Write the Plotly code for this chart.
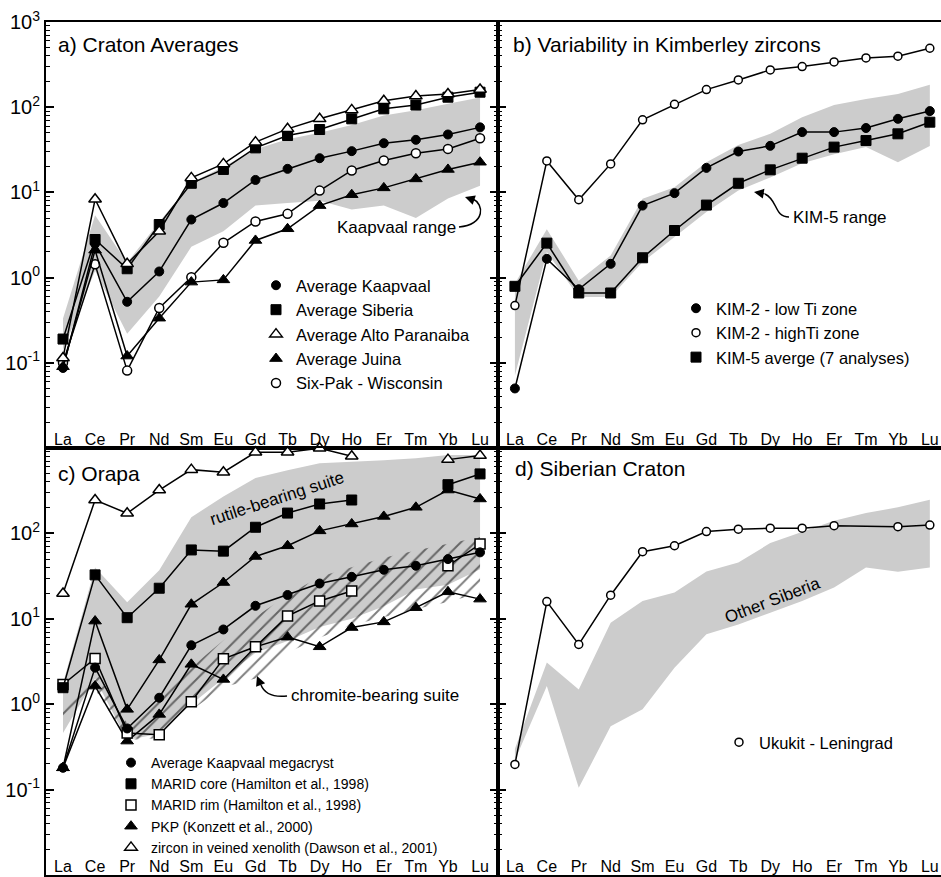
import plotly.graph_objects as go

W, H = 941, 877
elements = ["La", "Ce", "Pr", "Nd", "Sm", "Eu", "Gd", "Tb", "Dy", "Ho", "Er", "Tm", "Yb", "Lu"]
idx = list(range(len(elements)))

# ---------------- Panel a: Craton averages ----------------
kaap_avg = [0.087, 2.5, 0.52, 1.18, 4.8, 7.5, 14.0, 18.9, 25.2, 30.5, 37.8, 41.4, 47.8, 58.0]
siberia_avg = [0.19, 2.8, 1.27, 4.2, 12.8, 18.6, 33.3, 46.5, 54.7, 73.0, 95.6, 106.0, 131.0, 150.0]
alto_avg = [0.114, 8.3, 1.45, 3.5, 14.8, 21.6, 38.9, 55.7, 73.0, 93.0, 119.0, 135.0, 143.0, 161.0]
juina_avg = [0.09, 2.1, 0.12, 0.334, 0.885, 0.94, 2.73, 3.74, 7.0, 9.4, 11.3, 14.4, 18.6, 22.6]
sixpak = [0.1, 1.43, 0.081, 0.44, 1.01, 2.56, 4.56, 5.6, 10.5, 18.1, 23.7, 28.8, 32.4, 43.3]
kaap_range_hi = [0.33, 5.4, 1.5, 4.5, 13.0, 20.0, 32.0, 42.0, 50.0, 62.0, 80.0, 92.0, 110.0, 130.0]
kaap_range_lo = [0.14, 1.2, 0.22, 0.6, 2.3, 3.5, 7.0, 7.5, 8.0, 6.3, 7.0, 5.0, 8.5, 12.0]

# ---------------- Panel b: Kimberley zircons ----------------
kim2_low = [0.05, 1.66, 0.73, 1.45, 7.0, 9.8, 19.4, 30.2, 35.2, 51.0, 51.0, 57.0, 73.0, 90.0]
kim2_high = [0.47, 23.4, 8.2, 21.6, 71.0, 108.0, 161.0, 209.0, 274.0, 300.0, 340.0, 379.0, 397.0, 492.0]
kim5_avg = [0.79, 2.54, 0.66, 0.66, 1.71, 3.57, 7.1, 12.8, 18.4, 25.2, 34.0, 40.6, 48.7, 66.7]
kim5_hi = [0.85, 3.7, 0.92, 1.82, 8.4, 11.5, 22.6, 36.0, 48.7, 76.0, 106.0, 125.0, 143.0, 183.0]
kim5_lo = [0.071, 2.0, 0.59, 0.59, 1.52, 3.0, 5.9, 10.5, 15.0, 22.0, 28.0, 34.0, 22.6, 35.0]

# ---------------- Panel c: Orapa ----------------
kaap_mega = [0.18, 2.68, 0.52, 1.19, 4.9, 7.5, 14.2, 19.0, 25.9, 31.0, 37.5, 41.8, 50.0, 60.0]
marid_core = [1.56, 32.7, 10.3, 22.8, 64.0, 62.0, 118.0, 173.0, 221.0, 246.0, None, None, 372.0, 497.0]
marid_rim = [1.7, 3.44, 0.46, 0.44, 1.07, 3.4, 4.7, 10.8, 16.2, 21.2, None, None, 41.8, 75.0]
pkp_hi = [0.18, 9.4, 0.87, 3.3, 14.8, 26.6, 53.7, 71.6, 107.0, 129.0, 158.0, 202.0, 322.0, 253.0]
pkp_lo = [0.18, 1.63, 0.37, 0.76, 2.93, 1.95, 4.7, 6.1, 4.7, 7.9, 9.2, 13.5, 20.7, 17.0]
zircon_vein = [19.8, 246.0, 172.0, 322.0, 558.0, 520.0, 890.0, 890.0, 993.0, 800.0, None, None, 731.0, 815.0]
rutile_hi = [1.76, 40.0, 15.6, 37.0, 155.0, 270.0, 445.0, 550.0, 665.0, 690.0, 720.0, 760.0, 830.0, 830.0]
rutile_lo = [0.46, 2.0, 0.38, 0.45, 1.0, 2.0, 4.0, 5.5, 8.0, 10.0, 14.0, 22.0, 25.0, 38.0]
chromite_hi = [1.0, 2.5, 0.6, 1.2, 2.7, 5.6, 10.5, 19.0, 31.0, 40.0, 52.0, 63.0, 76.0, 91.0]
chromite_lo = [0.6, 1.5, 0.38, 0.4, 0.85, 1.58, 2.0, 4.0, 6.0, 8.4, 10.5, 13.0, 15.7, 20.0]

# ---------------- Panel d: Siberian craton ----------------
ukukit = [0.197, 15.9, 5.0, 18.9, 61.0, 71.7, 105.0, 112.0, 115.0, 115.0, 123.0, None, 120.0, 125.0]
sib_hi = [0.3, 3.07, 1.49, 9.0, 16.2, 20.3, 35.8, 45.7, 77.0, 105.0, 141.0, 173.0, 202.0, 248.0]
sib_lo = [0.22, 1.63, 0.105, 0.55, 0.87, 2.68, 6.6, 8.6, 11.8, 16.2, 23.2, 40.0, 35.6, 40.0]

FONT = "Arial, Liberation Sans, sans-serif"
GRAY = "#cccccc"


def px(x):
    return x / W


def py(y):
    return 1 - y / H


fig = go.Figure()

MK = {
    "fcircle": dict(symbol="circle", size=9, color="black", line=dict(color="black", width=1)),
    "ocircle": dict(symbol="circle", size=9, color="white", line=dict(color="black", width=1.5)),
    "fsquare": dict(symbol="square", size=10, color="black", line=dict(color="black", width=1)),
    "osquare": dict(symbol="square", size=10, color="white", line=dict(color="black", width=1.5)),
    "ftri": dict(symbol="triangle-up", size=11, color="black", line=dict(color="black", width=1)),
    "otri": dict(symbol="triangle-up", size=11, color="white", line=dict(color="black", width=1.5)),
}


def band(hi, lo, xa, ya, pattern=False):
    xs = idx + idx[::-1]
    ys = hi + lo[::-1]
    if pattern:
        fig.add_trace(go.Scatter(x=xs, y=ys, xaxis=xa, yaxis=ya, mode="lines", fill="toself",
                                 fillcolor="rgba(0,0,0,0)", line=dict(width=0),
                                 fillpattern=dict(shape="/", fgcolor="black", bgcolor="rgba(0,0,0,0)",
                                                  size=10, solidity=0.2),
                                 showlegend=False, hoverinfo="skip"))
    else:
        fig.add_trace(go.Scatter(x=xs, y=ys, xaxis=xa, yaxis=ya, mode="lines", fill="toself",
                                 fillcolor=GRAY, line=dict(width=0), showlegend=False, hoverinfo="skip"))


def series(vals, mk, xa, ya, connect=False, small=False):
    m = dict(MK[mk])
    if small:
        m["size"] = 8
    fig.add_trace(go.Scatter(x=idx, y=vals, xaxis=xa, yaxis=ya, mode="lines+markers",
                             line=dict(color="black", width=1.5), marker=m, connectgaps=connect,
                             cliponaxis=False, showlegend=False))


def leg(name, mk, legend, size=None):
    m = dict(MK[mk])
    if size:
        m["size"] = size
    fig.add_trace(go.Scatter(x=[None], y=[None], xaxis="x", yaxis="y", mode="markers", marker=m,
                             name=name, legend=legend, showlegend=True))


# Panel a
band(kaap_range_hi, kaap_range_lo, "x", "y")
series(sixpak, "ocircle", "x", "y")
series(juina_avg, "ftri", "x", "y")
series(kaap_avg, "fcircle", "x", "y")
series(siberia_avg, "fsquare", "x", "y")
series(alto_avg, "otri", "x", "y")

# Panel b
band(kim5_hi, kim5_lo, "x2", "y2")
series(kim2_high, "ocircle", "x2", "y2", small=True)
series(kim2_low, "fcircle", "x2", "y2")
series(kim5_avg, "fsquare", "x2", "y2")

# Panel c
band(rutile_hi, rutile_lo, "x3", "y3")
band(chromite_hi, chromite_lo, "x3", "y3", pattern=True)
series(pkp_lo, "ftri", "x3", "y3")
series(marid_rim, "osquare", "x3", "y3")
series(kaap_mega, "fcircle", "x3", "y3")
series(pkp_hi, "ftri", "x3", "y3")
series(marid_core, "fsquare", "x3", "y3")
series(zircon_vein, "otri", "x3", "y3")

# Panel d
band(sib_hi, sib_lo, "x4", "y4")
series(ukukit, "ocircle", "x4", "y4", connect=True, small=True)

# Legends
leg("Average Kaapvaal", "fcircle", "legend")
leg("Average Siberia", "fsquare", "legend")
leg("Average Alto Paranaiba", "otri", "legend")
leg("Average Juina", "ftri", "legend")
leg("Six-Pak - Wisconsin", "ocircle", "legend")

leg("KIM-2 - low Ti zone", "fcircle", "legend2")
leg("KIM-2 - highTi zone", "ocircle", "legend2", size=8)
leg("KIM-5 averge (7 analyses)", "fsquare", "legend2")

leg("Average Kaapvaal megacryst", "fcircle", "legend3")
leg("MARID core (Hamilton et al., 1998)", "fsquare", "legend3")
leg("MARID rim (Hamilton et al., 1998)", "osquare", "legend3")
leg("PKP (Konzett et al., 2000)", "ftri", "legend3")
leg("zircon in veined xenolith (Dawson et al., 2001)", "otri", "legend3")

leg("Ukukit - Leningrad", "ocircle", "legend4", size=8)

# ---------------- Axes ----------------
TOP_Y = [py(448), py(22)]
BOT_Y = [py(875), py(448)]
LEFT_X = [px(46), px(498)]
RIGHT_X = [px(498), 1.0]

minor_vals = [m * 10 ** k for k in range(-2, 3) for m in range(2, 10)]
sup = {0.1: "10<sup>-1</sup>", 1: "10<sup>0</sup>", 10: "10<sup>1</sup>", 100: "10<sup>2</sup>", 1000: "10<sup>3</sup>"}


def yaxis(domain, anchor, labels, mirror="ticks"):
    d = dict(type="log", range=[-2, 3], domain=domain, anchor=anchor, automargin=False,
             tickmode="array", tickvals=labels if labels else [0.1, 1, 10, 100, 1000],
             showticklabels=bool(labels), ticks="inside", ticklen=8, tickwidth=1.5, tickcolor="black",
             minor=dict(tickmode="array", tickvals=minor_vals, ticks="inside", ticklen=4,
                        tickwidth=1, tickcolor="black"),
             showline=True, linewidth=2, linecolor="black", mirror=mirror,
             showgrid=False, zeroline=False, tickfont=dict(size=20, color="black", family=FONT))
    if labels:
        d["ticktext"] = [sup[v] for v in labels]
    return d


def xaxis(domain, anchor, rng, bottom_ticks):
    return dict(domain=domain, anchor=anchor, range=rng, automargin=False, tickmode="array", tickvals=idx,
                ticktext=elements, ticklabelposition="inside",
                ticks="outside" if bottom_ticks else "", ticklen=6, tickwidth=1.5, tickcolor="black",
                showline=True, linewidth=2, linecolor="black", mirror=True,
                showgrid=False, zeroline=False, tickfont=dict(size=16, color="black", family=FONT))


def top_ticks(over, anchor, rng):
    return dict(overlaying=over, anchor=anchor, side="top", range=rng, automargin=False,
                tickmode="linear", tick0=0, dtick=1,
                ticks="inside", ticklen=6, tickwidth=1.5, tickcolor="black", showticklabels=False,
                minor=dict(tick0=0.5, dtick=1, ticks="inside", ticklen=3, tickwidth=1, tickcolor="black"),
                showline=False, showgrid=False, zeroline=False)


RL = [-0.53, 13.56]
RR = [-0.53, 13.35]

fig.update_layout(
    width=W, height=H, margin=dict(l=0, r=0, t=0, b=0, autoexpand=False),
    paper_bgcolor="white", plot_bgcolor="rgba(0,0,0,0)",
    font=dict(family=FONT, color="black"),
    xaxis=xaxis(LEFT_X, "y", RL, False),
    xaxis2=xaxis(RIGHT_X, "y2", RR, False),
    xaxis3=xaxis(LEFT_X, "y3", RL, True),
    xaxis4=xaxis(RIGHT_X, "y4", RR, True),
    xaxis5=top_ticks("x3", "y3", RL),
    xaxis6=top_ticks("x4", "y4", RR),
    yaxis=yaxis(TOP_Y, "x", [0.1, 1, 10, 100, 1000]),
    yaxis2=yaxis(TOP_Y, "x2", [], mirror=False),
    yaxis3=yaxis(BOT_Y, "x3", [0.1, 1, 10, 100]),
    yaxis4=yaxis(BOT_Y, "x4", [], mirror=False),
)

LEG_COMMON = dict(xanchor="left", yanchor="top", bgcolor="rgba(0,0,0,0)", borderwidth=0,
                  tracegroupgap=0, itemwidth=30, itemclick=False, itemdoubleclick=False)
fig.update_layout(
    legend=dict(x=px(256), y=py(268), font=dict(size=16.5, family=FONT, color="black"), **LEG_COMMON),
    legend2=dict(x=px(676), y=py(291), font=dict(size=16.5, family=FONT, color="black"), **LEG_COMMON),
    legend3=dict(x=px(111), y=py(747), font=dict(size=14, family=FONT, color="black"), **LEG_COMMON),
    legend4=dict(x=px(719), y=py(725), font=dict(size=16.5, family=FONT, color="black"), **LEG_COMMON),
)

# Panel titles and labels
ann = []


def text(x, y, s, size, anchor="left", angle=0):
    ann.append(dict(x=px(x), y=py(y), xref="paper", yref="paper", text=s, showarrow=False,
                    xanchor=anchor, yanchor="middle", textangle=angle,
                    font=dict(size=size, family=FONT, color="black")))


text(56, 44, "a) Craton Averages", 21)
text(511, 44, "b) Variability in Kimberley zircons", 21)
text(56, 473, "c) Orapa", 21)
text(513, 469, "d) Siberian Craton", 21)
text(396, 227, "Kaapvaal range", 17, anchor="center")
text(840, 217, "KIM-5 range", 17, anchor="center")
text(375, 695, "chromite-bearing suite", 17, anchor="center")
text(277, 498, "rutile-bearing suite", 17, anchor="center", angle=-18)
text(772, 600, "Other Siberia", 17, anchor="center", angle=-21)


def arrowhead(tip, dx, dy):
    ann.append(dict(x=px(tip[0]), y=py(tip[1]), xref="paper", yref="paper", text="", showarrow=True,
                    ax=dx, ay=dy, axref="pixel", ayref="pixel", arrowhead=2, arrowsize=1.3,
                    arrowwidth=1.5, arrowcolor="black"))


arrowhead((465, 197), 9, 3)
arrowhead((754, 192), 12, 2)
arrowhead((257, 676), 4, 10)

fig.update_layout(annotations=ann)


def curve(pts):
    (x0, y0), (c1x, c1y), (c2x, c2y), (x1, y1) = pts
    return (f"M {px(x0)},{py(y0)} C {px(c1x)},{py(c1y)} {px(c2x)},{py(c2y)} {px(x1)},{py(y1)}")


shapes = []
for pts in [
    [(459, 227), (486, 224), (484, 204), (473, 199)],
    [(789, 217), (774, 217), (778, 200), (765, 194)],
    [(287, 696), (268, 698), (263, 690), (261, 685)],
]:
    shapes.append(dict(type="path", xref="paper", yref="paper", path=curve(pts),
                       line=dict(color="black", width=1.5)))
fig.update_layout(shapes=shapes)

fig.write_html(
    "out.html",
    config={"displayModeBar": False},
    post_script=(
        "document.body.style.margin='0px';"
        "document.body.style.overflow='hidden';"
        "document.documentElement.style.overflow='hidden';"
    ),
)
